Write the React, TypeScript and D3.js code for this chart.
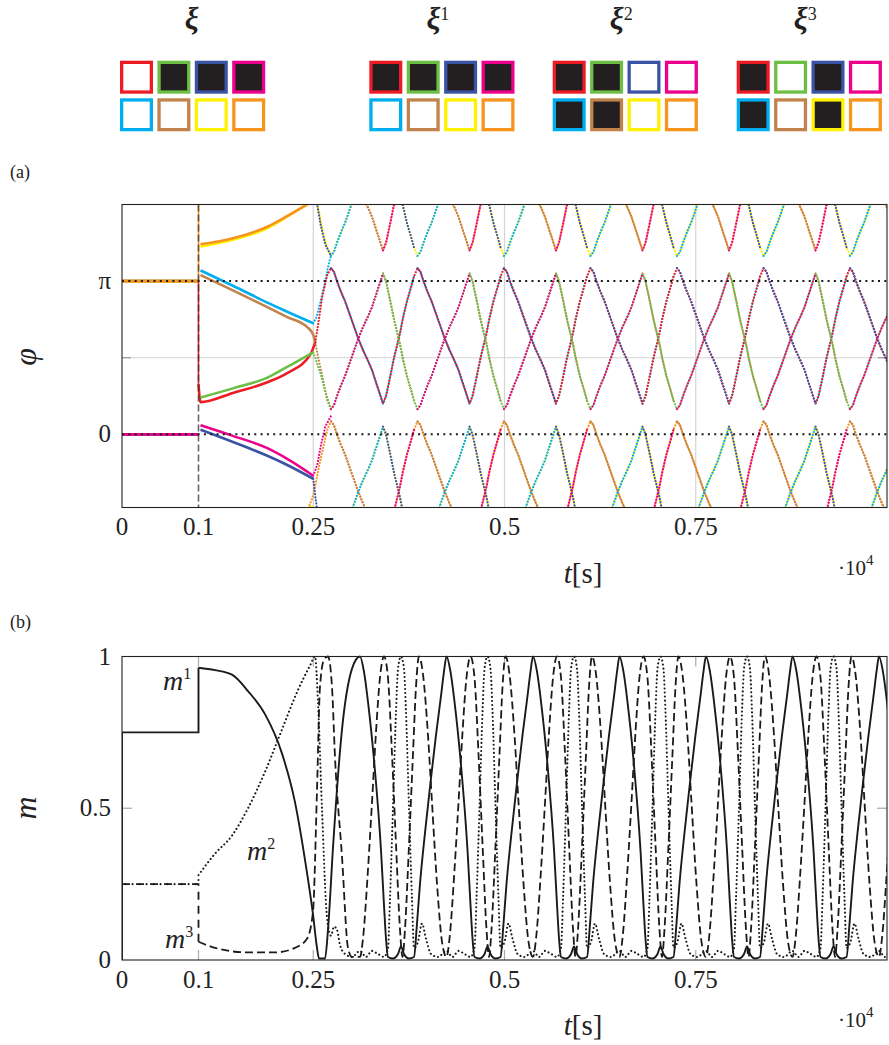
import React from 'react';
import * as d3 from 'd3';

type P = [number, number];

// ---------------- pattern squares ----------------
const OSC_COLORS = ['#ED1C24', '#6DBE45', '#3B53A4', '#EC008C', '#00AEEF', '#C1834B', '#FFF200', '#F7941D'];
// red, green, blue, magenta, cyan, brown, yellow, orange
const XI_NAMES = ['', '1', '2', '3'];
const XI_0 = [0, 1, 1, 1, 0, 0, 0, 0];
const XI_1 = [1, 1, 1, 1, 0, 0, 0, 0];
const XI_2 = [1, 1, 0, 0, 1, 1, 0, 0];
const XI_3 = [1, 0, 1, 0, 1, 0, 1, 0];
const XI_PATTERNS = [XI_0, XI_1, XI_2, XI_3];
const XI_LEFT = [120, 369.3, 552.7, 736.7];

// ---------------- axes ----------------
const T_TICKS = [0, 0.1, 0.25, 0.5, 0.75];
const T_TICK_LABELS = ['0', '0.1', '0.25', '0.5', '0.75'];
const T_GRID = [0.25, 0.5, 0.75];
const PHI_TICKS = [0, 1];
const PHI_TICK_LABELS = ['0', 'π'];
const PHI_GRID = [0.5];
const M_TICKS = [0, 0.5, 1];
const M_TICK_LABELS = ['0', '0.5', '1'];

// ---------------- phases (phi in units of pi, t in 1e4 s) ----------------
const PHI_BEFORE = [1, 0, 0, 0, 1, 1, 1, 1];
const RED_KICK: P[] = [[0.1, 1], [0.1, 0.33]];
const ORANGE_KICK: P[] = [[0.1, 1], [0.1, 1.5]];

const RED_EARLY: P[] = [[0.1, 0.33], [0.1026, 0.21], [0.145, 0.27], [0.19, 0.34], [0.216, 0.4], [0.2461, 0.52], [0.2526, 0.6]];
const GREEN_EARLY: P[] = [[0.1026, 0.24], [0.145, 0.3], [0.19, 0.37], [0.216, 0.44], [0.25, 0.535]];
const BLUE_EARLY: P[] = [[0.1026, 0.03], [0.145, -0.05], [0.19, -0.14], [0.216, -0.2], [0.25, -0.29]];
const MAGENTA_EARLY: P[] = [[0.1026, 0.06], [0.145, -0.01], [0.19, -0.09], [0.216, -0.16], [0.25, -0.27]];
const CYAN_EARLY: P[] = [[0.1026, 1.07], [0.145, 0.97], [0.19, 0.86], [0.216, 0.8], [0.25, 0.725]];
const BROWN_EARLY: P[] = [[0.1026, 1.04], [0.145, 0.94], [0.19, 0.83], [0.216, 0.765], [0.2421, 0.7], [0.25, 0.65], [0.2526, 0.6]];
const YELLOW_EARLY: P[] = [[0.1026, 1.225], [0.145, 1.27], [0.19, 1.345], [0.216, 1.42], [0.2408, 1.5]];
const ORANGE_EARLY: P[] = [[0.1026, 1.24], [0.145, 1.28], [0.19, 1.355], [0.216, 1.425], [0.2421, 1.5]];

const RED_TRANS: P[] = [[0.2526, 0.6], [0.2565, 0.72], [0.2618, 0.9], [0.2683, 1.04], [0.2732, 1.085]];
const GREEN_TRANS: P[] = [[0.25, 0.535], [0.2539, 0.48], [0.2605, 0.38], [0.2657, 0.28], [0.2732, 0.165]];
const BLUE_TRANS: P[] = [[0.25, -0.29], [0.2526, -0.4], [0.2552, -0.5], [0.2592, -0.62], [0.2657, -0.76], [0.2732, -0.835]];
const MAGENTA_TRANS: P[] = [[0.25, -0.27], [0.2552, -0.2], [0.2605, -0.06], [0.2657, 0.05], [0.2732, 0.12]];
const CYAN_TRANS: P[] = [[0.25, 0.725], [0.2539, 0.76], [0.2592, 0.86], [0.2657, 1.0], [0.2696, 1.1], [0.2732, 1.165]];
const BROWN_TRANS: P[] = [[0.2526, 0.6], [0.2565, 0.5], [0.2631, 0.35], [0.2683, 0.22], [0.2732, 0.165]];
const YELLOW_TRANS: P[] = [[0.2408, 1.5], [0.2474, 1.535], [0.2539, 1.51], [0.2565, 1.48], [0.2631, 1.31], [0.2683, 1.22], [0.2732, 1.165]];
const ORANGE_TRANS: P[] = [[0.2421, 1.5], [0.25, 1.6], [0.2592, 1.83], [0.2683, 2.03], [0.2732, 2.085]];

const EARLY = [RED_EARLY, GREEN_EARLY, BLUE_EARLY, MAGENTA_EARLY, CYAN_EARLY, BROWN_EARLY, YELLOW_EARLY, ORANGE_EARLY];
const TRANS = [RED_TRANS, GREEN_TRANS, BLUE_TRANS, MAGENTA_TRANS, CYAN_TRANS, BROWN_TRANS, YELLOW_TRANS, ORANGE_TRANS];

// periodic regime: times of event A (red/blue crest), and one period of the crest track
const EVENT_A = [0.2732, 0.3863, 0.4993, 0.6124, 0.7255, 0.8386, 0.9516];
const TRACK_T = [0, 0.0039, 0.0078, 0.0131, 0.0183, 0.0261, 0.0353, 0.0418, 0.0484, 0.0536, 0.0588, 0.0641, 0.068, 0.0719, 0.0771, 0.0824, 0.0863, 0.0902, 0.0941, 0.0993, 0.1046, 0.1085];
const TRACK_V = [1.085, 1.06, 1.0, 0.93, 0.87, 0.76, 0.63, 0.55, 0.48, 0.42, 0.34, 0.26, 0.2, 0.25, 0.37, 0.5, 0.58, 0.66, 0.76, 0.87, 0.96, 1.03];
const TRACK_B_INDEX = 12;
// four tracks: mirrored / shifted copies of the crest track
const TRACK_SIGN = [1, -1, -1, 1];
const TRACK_SHIFT = [0, 2.25, 1.25, -1];
// which track each oscillator follows between A->B and B->A'
const ARM_A = [0, 2, 0, 2, 1, 3, 1, 3];
const ARM_B = [0, 2, 1, 3, 0, 2, 1, 3];
const DRAW_ORDER = [6, 7, 5, 4, 0, 1, 2, 3];
const PRE_ORDER = [0, 4, 5, 6, 7, 1, 2, 3];

// ---------------- overlaps m ----------------
const M1_STEP: P[] = [[0, 0], [0, 0.75], [0.1, 0.75], [0.1, 0.963]];
const M1_EARLY: P[] = [[0.1, 0.963], [0.1215, 0.955], [0.1438, 0.94], [0.1647, 0.886], [0.1869, 0.81], [0.2092, 0.68], [0.2261, 0.52], [0.2392, 0.33], [0.2497, 0.15], [0.2549, 0.04], [0.2575, 0.005], [0.2654, 0.005], [0.2693, 0.1], [0.2758, 0.37], [0.2876, 0.76], [0.3007, 0.96]];
const M2_STEP: P[] = [[0, 0.25], [0.1, 0.25], [0.1, 0.28]];
const M2_EARLY: P[] = [[0.1, 0.28], [0.1215, 0.35], [0.1438, 0.41], [0.1647, 0.5], [0.1869, 0.62], [0.2092, 0.76], [0.2301, 0.89], [0.2458, 0.97], [0.2523, 1.0], [0.2562, 0.85], [0.2614, 0.5], [0.268, 0.14], [0.2732, 0.08], [0.2771, 0.11], [0.281, 0.1], [0.285, 0.05], [0.2915, 0.02], [0.3007, 0.01]];
const M3_STEP: P[] = [[0, 0.25], [0.1, 0.25], [0.1, 0.06]];
const M3_EARLY: P[] = [[0.1, 0.06], [0.1215, 0.04], [0.1647, 0.025], [0.2001, 0.025], [0.2261, 0.04], [0.2418, 0.07], [0.2497, 0.16], [0.2549, 0.56], [0.2588, 0.9], [0.2641, 0.99], [0.2693, 1.0], [0.2745, 0.9], [0.2784, 0.67], [0.2876, 0.34], [0.2954, 0.04], [0.3007, 0.01], [0.3059, 0.01]];

const M_PEAKS = [0.3111, 0.4242, 0.5373, 0.6503, 0.7634, 0.8765, 0.9895];
const M1_TPL_T = [0, 0.0052, 0.0105, 0.0183, 0.0275, 0.0314, 0.034, 0.0366, 0.0431, 0.0497, 0.0536, 0.0575, 0.0641, 0.0706, 0.0745, 0.0784, 0.085, 0.0915, 0.0993, 0.1059, 0.1098];
const M1_TPL_V = [1, 0.95, 0.85, 0.66, 0.36, 0.18, 0.07, 0.01, 0.005, 0.02, 0.045, 0.02, 0.005, 0.01, 0.12, 0.25, 0.42, 0.57, 0.74, 0.87, 0.95];
const M2_TPL_T = [0, 0.0078, 0.0157, 0.0235, 0.0314, 0.0366, 0.0392, 0.0431, 0.0471, 0.0497, 0.0536, 0.0575, 0.0601, 0.0641, 0.068, 0.0706, 0.0758, 0.081, 0.0863, 0.0928, 0.102];
const M2_TPL_V = [0.03, 0.01, 0.03, 0.02, 0.01, 0.04, 0.2, 0.5, 0.82, 0.96, 1, 0.96, 0.82, 0.5, 0.2, 0.04, 0.06, 0.12, 0.07, 0.02, 0.01];
const M3_TPL_T = [0, 0.0039, 0.0105, 0.0157, 0.0209, 0.0261, 0.0314, 0.0366, 0.0418, 0.0471, 0.0523, 0.0556, 0.0588, 0.0641, 0.0693, 0.0732, 0.0771, 0.0824, 0.0889, 0.0941, 0.1007, 0.1072];
const M3_TPL_V = [0.01, 0.07, 0.3, 0.52, 0.75, 0.93, 1, 0.93, 0.68, 0.38, 0.1, 0.01, 0.1, 0.38, 0.68, 0.9, 1, 0.94, 0.74, 0.52, 0.25, 0.06];

function trackValue(track: number, v: number) {
  return TRACK_SHIFT[track] + TRACK_SIGN[track] * v;
}

// continuous (unwrapped) segments; a new segment starts whenever the oscillator changes track
function buildPhase(ci: number): P[][] {
  const raw: { t: number; v: number; track: number }[] = TRANS[ci].map((d) => ({ t: d[0], v: d[1], track: ARM_B[ci] }));
  EVENT_A.forEach((a) => {
    TRACK_T.forEach((o, j) => {
      const t = a + o;
      if (j <= TRACK_B_INDEX) raw.push({ t, v: trackValue(ARM_A[ci], TRACK_V[j]), track: ARM_A[ci] });
      if (j >= TRACK_B_INDEX) raw.push({ t, v: trackValue(ARM_B[ci], TRACK_V[j]), track: ARM_B[ci] });
    });
  });
  const segs: P[][] = [];
  let cur: P[] = [[raw[0].t, raw[0].v]];
  let prev = raw[0].v;
  for (let i = 1; i < raw.length; i++) {
    let v = raw[i].v;
    while (v - prev > 1) v -= 2;
    while (v - prev < -1) v += 2;
    prev = v;
    if (raw[i].track !== raw[i - 1].track) {
      if (cur.length > 1) segs.push(cur);
      cur = [];
    }
    cur.push([raw[i].t, v]);
  }
  if (cur.length > 1) segs.push(cur);
  return segs;
}

function buildM(early: P[], tplT: number[], tplV: number[]): P[] {
  const pts: P[] = [...early];
  M_PEAKS.forEach((s) => {
    tplT.forEach((o, j) => pts.push([s + o, tplV[j]]));
  });
  return pts;
}

const FONT = '"Liberation Serif", "DejaVu Serif", "Times New Roman", serif';

export default function App() {
  const xS = d3.scaleLinear().domain([0, 1]).range([122, 887]);
  const yA = d3.scaleLinear().domain([-1.5 / Math.PI, 1.5]).range([507.5, 204.5]);
  const yB = d3.scaleLinear().domain([0, 1]).range([960, 656.5]);

  const linA = d3.line<P>().x((d) => xS(d[0])).y((d) => yA(d[1]));
  const smoothA = d3.line<P>().x((d) => xS(d[0])).y((d) => yA(d[1])).curve(d3.curveMonotoneX);
  const linB = d3.line<P>().x((d) => xS(d[0])).y((d) => yB(d[1]));
  const smoothB = d3.line<P>().x((d) => xS(d[0])).y((d) => yB(d[1])).curve(d3.curveMonotoneX);

  const phaseSegs = OSC_COLORS.map((_, ci) => buildPhase(ci));
  const copies = d3.range(-8, 9);

  const m1 = buildM(M1_EARLY, M1_TPL_T, M1_TPL_V);
  const m2 = buildM(M2_EARLY, M2_TPL_T, M2_TPL_V);
  const m3 = buildM(M3_EARLY, M3_TPL_T, M3_TPL_V);

  const aLeft = xS(0), aRight = xS(1);
  const aTop = yA(1.5), aBottom = yA(-1.5 / Math.PI);
  const bTop = yB(1), bBottom = yB(0);

  const sq = 33, pitch = 37.4, sw = 3.3;
  const txt = { fontFamily: FONT };

  return (
    <svg width={889} height={1045} style={{ position: 'absolute', left: 0, top: 0, background: '#fff', fontFamily: FONT }}>
      <defs>
        <clipPath id="clipA"><rect x={aLeft} y={aTop} width={aRight - aLeft} height={aBottom - aTop} /></clipPath>
        <clipPath id="clipB"><rect x={aLeft} y={bTop - 1.5} width={aRight - aLeft} height={bBottom - bTop + 3} /></clipPath>
      </defs>
      <rect x={0} y={0} width={889} height={1045} fill="#fff" />

      {/* pattern squares */}
      {XI_PATTERNS.map((pat, g) => {
        const gx = XI_LEFT[g];
        const cx = gx + (3 * pitch + sq) / 2;
        return (
          <g key={'g' + g}>
            <text x={XI_NAMES[g] === '' ? cx - 1 : cx - 4} y={29} fontSize={31} textAnchor="middle" fill="#231F20" style={txt}>
              <tspan fontWeight="bold" fontStyle="italic">ξ</tspan>
              {XI_NAMES[g] !== '' && <tspan dy={-9} fontSize={18}>{XI_NAMES[g]}</tspan>}
            </text>
            {pat.map((b, i) => {
              const c = i % 4, r = Math.floor(i / 4);
              return (
                <rect key={i} x={gx + c * pitch + sw / 2} y={60.7 + r * 37.6 + sw / 2} width={sq - sw} height={sq - sw}
                  fill={b ? '#231F20' : '#fff'} stroke={OSC_COLORS[i]} strokeWidth={sw} />
              );
            })}
          </g>
        );
      })}

      {/* panel labels */}
      <text x={10} y={178} fontSize={18} fill="#222" style={txt}>(a)</text>
      <text x={10} y={628} fontSize={18} fill="#222" style={txt}>(b)</text>

      {/* ---------------- panel (a) ---------------- */}
      {T_GRID.map((t) => (
        <line key={'ga' + t} x1={xS(t)} x2={xS(t)} y1={aTop} y2={aBottom} stroke="#d4d4d4" strokeWidth={1.2} />
      ))}
      {PHI_GRID.map((p) => (
        <line key={'gp' + p} x1={aLeft} x2={aRight} y1={yA(p)} y2={yA(p)} stroke="#d4d4d4" strokeWidth={1.2} />
      ))}
      {PHI_GRID.map((p) => (
        <g key={'tp' + p}>
          <line x1={aLeft} x2={aLeft + 9} y1={yA(p)} y2={yA(p)} stroke="#999" strokeWidth={1.2} />
          <line x1={aRight - 9} x2={aRight} y1={yA(p)} y2={yA(p)} stroke="#999" strokeWidth={1.2} />
        </g>
      ))}
      <g clipPath="url(#clipA)">
        {/* before the kick */}
        {PRE_ORDER.map((ci) => (
          <path key={'pre' + ci} d={linA([[0, PHI_BEFORE[ci]], [0.1, PHI_BEFORE[ci]]]) || ''} fill="none" stroke={OSC_COLORS[ci]} strokeWidth={2.6} />
        ))}
        <path d={linA(ORANGE_KICK) || ''} fill="none" stroke={OSC_COLORS[7]} strokeWidth={1.6} />
        <path d={linA(RED_KICK) || ''} fill="none" stroke={OSC_COLORS[0]} strokeWidth={1.6} />
        {/* slow relaxation */}
        {DRAW_ORDER.map((ci) => (
          <path key={'early' + ci} d={smoothA(EARLY[ci]) || ''} fill="none" stroke={OSC_COLORS[ci]} strokeWidth={2.6} />
        ))}
        {/* dotted fast oscillation, wrapped modulo 2 pi */}
        {DRAW_ORDER.map((ci) => (
          <g key={'osc' + ci}>
            {copies.map((n) => (
              <g key={n} transform={`translate(0,${yA(2 * n) - yA(0)})`}>
                {phaseSegs[ci].map((seg, si) => (
                  <path key={si} d={linA(seg) || ''} fill="none" stroke={OSC_COLORS[ci]} strokeWidth={2.2}
                    strokeDasharray="0.01 3.1" strokeLinecap="round" />
                ))}
              </g>
            ))}
          </g>
        ))}
        <line x1={xS(0.1)} x2={xS(0.1)} y1={aTop} y2={aBottom} stroke="#333" strokeOpacity={0.75} strokeWidth={1.6} strokeDasharray="7 3" />
        {PHI_TICKS.map((p) => (
          <line key={'dl' + p} x1={aLeft} x2={aRight} y1={yA(p)} y2={yA(p)} stroke="#1a1a1a" strokeWidth={2} strokeDasharray="2 4.3" />
        ))}
      </g>
      <rect x={aLeft} y={aTop} width={aRight - aLeft} height={aBottom - aTop} fill="none" stroke="#222" strokeWidth={1.1} />
      {T_TICKS.map((t, i) => (
        <text key={'xta' + t} x={xS(t)} y={535} fontSize={25} textAnchor="middle" fill="#222" style={txt}>{T_TICK_LABELS[i]}</text>
      ))}
      {PHI_TICKS.map((p, i) => (
        <text key={'yta' + p} x={111} y={yA(p) + 8} fontSize={25} textAnchor="end" fill="#222" style={txt}>{PHI_TICK_LABELS[i]}</text>
      ))}
      <text transform="translate(36,357) rotate(-90)" fontSize={32} fontStyle="italic" textAnchor="middle" fill="#222" style={txt}>φ</text>
      <text x={583} y={583} fontSize={29} textAnchor="middle" fill="#222" style={txt}><tspan fontStyle="italic">t</tspan>[s]</text>
      <text x={838} y={575} fontSize={21} fill="#222" style={txt}>·10<tspan dy={-10} fontSize={15}>4</tspan></text>

      {/* ---------------- panel (b) ---------------- */}
      {[0.1, 0.25, 0.5, 0.75].map((t) => (
        <g key={'tb' + t}>
          <line x1={xS(t)} x2={xS(t)} y1={bTop} y2={bTop + 10} stroke="#aaa" strokeWidth={1.2} />
          <line x1={xS(t)} x2={xS(t)} y1={bBottom - 10} y2={bBottom} stroke="#aaa" strokeWidth={1.2} />
        </g>
      ))}
      <line x1={aLeft} x2={aLeft + 10} y1={yB(0.5)} y2={yB(0.5)} stroke="#aaa" strokeWidth={1.2} />
      <line x1={aRight - 10} x2={aRight} y1={yB(0.5)} y2={yB(0.5)} stroke="#aaa" strokeWidth={1.2} />
      <g clipPath="url(#clipB)">
        <path d={linB(M3_STEP) || ''} fill="none" stroke="#1a1a1a" strokeWidth={1.8} strokeDasharray="8 6" />
        <path d={smoothB(m3) || ''} fill="none" stroke="#1a1a1a" strokeWidth={1.8} strokeDasharray="8 4" />
        <path d={linB(M2_STEP) || ''} fill="none" stroke="#1a1a1a" strokeWidth={2.1} strokeDasharray="0.01 7" strokeDashoffset={-3.5} strokeLinecap="round" />
        <path d={smoothB(m2) || ''} fill="none" stroke="#1a1a1a" strokeWidth={2.1} strokeDasharray="0.01 4" strokeLinecap="round" />
        <path d={linB(M1_STEP) || ''} fill="none" stroke="#1a1a1a" strokeWidth={1.9} />
        <path d={smoothB(m1) || ''} fill="none" stroke="#1a1a1a" strokeWidth={1.9} />
      </g>
      <rect x={aLeft} y={bTop} width={aRight - aLeft} height={bBottom - bTop} fill="none" stroke="#222" strokeWidth={1.1} />
      {T_TICKS.map((t, i) => (
        <text key={'xtb' + t} x={xS(t)} y={988} fontSize={25} textAnchor="middle" fill="#222" style={txt}>{T_TICK_LABELS[i]}</text>
      ))}
      {M_TICKS.map((m, i) => (
        <text key={'ytb' + m} x={111} y={yB(m) + 8} fontSize={25} textAnchor="end" fill="#222" style={txt}>{M_TICK_LABELS[i]}</text>
      ))}
      <text transform="translate(36,808) rotate(-90)" fontSize={32} fontStyle="italic" textAnchor="middle" fill="#222" style={txt}>m</text>
      <text x={583} y={1035} fontSize={29} textAnchor="middle" fill="#222" style={txt}><tspan fontStyle="italic">t</tspan>[s]</text>
      <text x={838} y={1027} fontSize={21} fill="#222" style={txt}>·10<tspan dy={-10} fontSize={15}>4</tspan></text>

      {/* inline labels */}
      <text x={163} y={690} fontSize={28} fill="#222" style={txt}><tspan fontStyle="italic">m</tspan><tspan dy={-11} fontSize={16}>1</tspan></text>
      <text x={247} y={860} fontSize={28} fill="#222" style={txt}><tspan fontStyle="italic">m</tspan><tspan dy={-11} fontSize={16}>2</tspan></text>
      <text x={165} y={948} fontSize={28} fill="#222" style={txt}><tspan fontStyle="italic">m</tspan><tspan dy={-11} fontSize={16}>3</tspan></text>
    </svg>
  );
}
